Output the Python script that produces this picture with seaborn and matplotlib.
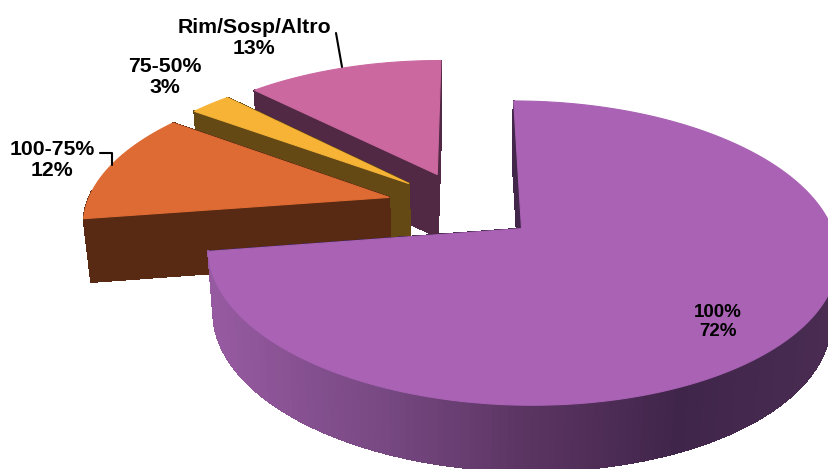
import numpy as np
import matplotlib
matplotlib.use('Agg')
import matplotlib.pyplot as plt
from matplotlib.collections import PolyCollection
import seaborn as sns

sns.set_theme(style='white')
plt.rcParams['font.family'] = ['Liberation Sans', 'DejaVu Sans']

# --- Data ---
categories = ['100%', '100-75%', '75-50%', 'Rim/Sosp/Altro']
percent_labels = ['72%', '12%', '3%', '13%']
# slice sizes as measured on the picture, the labels above are the printed ones
values = [72.6, 12.4, 2.6, 12.4]
top_colors = ['#A962B4', '#DE6B33', '#F6B336', '#CB68A0']
side_colors = ['#42274A', '#582A13', '#644915', '#522944']

# --- Projection of the tilted pie, in picture pixels ---
CX, CY = 465, 206
RX, RY = 303, 141
PERSP = 0.157
DEPTH = 63
BOTTOM_SCALE = 0.98
EXPLODE = [0.24, 0.26, 0.25, 0.25]


def project(x, y, bottom=False):
    f = 1 / (1 - PERSP * y)
    sx = RX * x * f
    sy = RY * y * f
    if bottom:
        return CX + sx * BOTTOM_SCALE, CY + sy + DEPTH / (1 - 0.04 * y)
    return CX + sx, CY + sy


# gradient of the big slice rim, left to right
rim_palette = sns.blend_palette(['#965AA0', '#7A4A85', '#5C3563', '#40254A', '#4A2C52'], n_colors=80)


def rim_color(x):
    i = int(np.clip((x - 211) / (829 - 211), 0, 1) * 79)
    return rim_palette[i]


fig, ax = plt.subplots(figsize=(8.29, 4.69), dpi=100)
fig.subplots_adjust(0, 0, 1, 1)
ax.set_xlim(0, 829)
ax.set_ylim(469, 0)
ax.axis('off')

starts = np.cumsum([0] + values[:-1]) * 3.6
sweeps = np.array(values) * 3.6

# back slices first, the big one in front
for i in [3, 2, 1, 0]:
    mid = np.radians(starts[i] + sweeps[i] / 2)
    ox = EXPLODE[i] * np.sin(mid)
    oy = -EXPLODE[i] * np.cos(mid)
    t = np.radians(np.linspace(starts[i], starts[i] + sweeps[i], max(int(sweeps[i]) * 2, 12)))
    xs = np.r_[ox, ox + np.sin(t)]
    ys = np.r_[oy, oy - np.cos(t)]

    quads, colors, depth = [], [], []
    n = len(xs)
    for j in range(n):
        k = (j + 1) % n
        p0 = project(xs[j], ys[j])
        p1 = project(xs[k], ys[k])
        p2 = project(xs[k], ys[k], bottom=True)
        p3 = project(xs[j], ys[j], bottom=True)
        is_cut = j == 0 or k == 0
        # rim pieces on the far side are hidden by the top face
        if not is_cut and (ys[j] + ys[k]) / 2 - oy < -0.05:
            continue
        quads.append([p0, p1, p2, p3])
        depth.append((ys[j] + ys[k]) / 2)
        if i == 0 and not is_cut:
            colors.append(rim_color((p0[0] + p1[0]) / 2))
        else:
            colors.append(side_colors[i])
    order = np.argsort(depth)
    ax.add_collection(PolyCollection([quads[o] for o in order],
                                     facecolors=[colors[o] for o in order],
                                     edgecolors=[colors[o] for o in order],
                                     linewidths=0.8, antialiaseds=False))
    px, py = project(xs, ys)
    ax.fill(px, py, color=top_colors[i], lw=0.8)

# leader lines
ax.plot([100, 112, 112], [153, 153, 165], color='black', lw=1.5)
ax.plot([336, 342], [33, 67], color='black', lw=1.5)

# labels
label_pos = [(718, 322), (52, 160), (165, 77), (254, 38)]
label_size = [13.5, 15.3, 15.3, 15.3]
for i, (lx, ly) in enumerate(label_pos):
    ax.text(lx, ly, f'{categories[i]}\n{percent_labels[i]}', ha='center', va='center',
            fontsize=label_size[i], fontweight='bold', color='black', linespacing=1.13)

fig.savefig('out.png', dpi=100)
